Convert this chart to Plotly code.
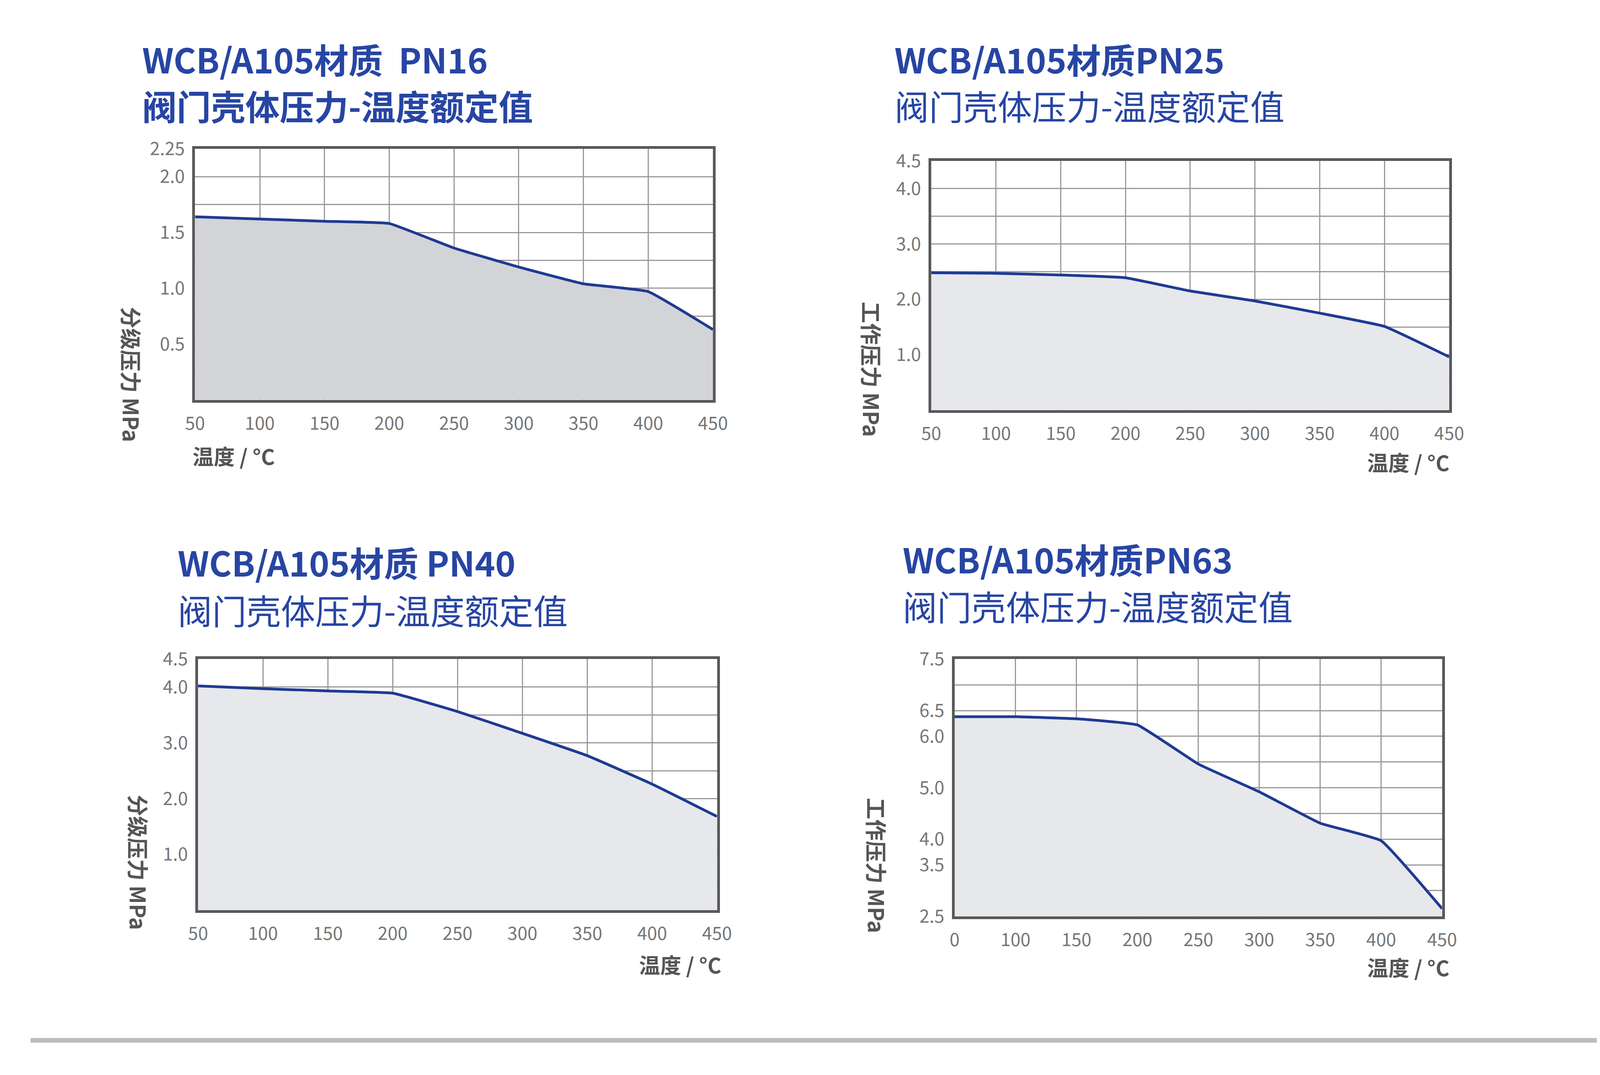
import plotly.graph_objects as go

# temperatures (°C) and pressures (MPa)
temps = [50, 100, 150, 200, 250, 300, 350, 400, 450]
pn16 = [1.64, 1.62, 1.60, 1.58, 1.36, 1.19, 1.04, 0.97, 0.63]
pn25 = [2.48, 2.47, 2.44, 2.39, 2.15, 1.97, 1.75, 1.51, 0.96]
pn40 = [4.02, 3.97, 3.93, 3.89, 3.56, 3.17, 2.77, 2.26, 1.68]
pn63 = [6.38, 6.38, 6.34, 6.22, 5.46, 4.92, 4.31, 3.97, 2.65]

x_labels = ['50', '100', '150', '200', '250', '300', '350', '400', '450']
x_labels_63 = ['0', '100', '150', '200', '250', '300', '350', '400', '450']

W, H = 4181, 2752
FONT = 'Noto Sans CJK SC'
BLUE = '#1f3a93'
TITLE_BLUE = '#2745a3'


# positions measured on a 1568x1032 view of the reference, converted to paper units
def px(v):
    return (v - 11) / 1.01 / 1568


def py(v):
    return 1 - (v - 14) / 1032


panels = [
    dict(y=pn16, xl=x_labels, box=(190, 700, 143, 390), rng=[0, 2.25], step=0.25,
         lab={0.5: '0.5', 1.0: '1.0', 1.5: '1.5', 2.0: '2.0', 2.25: '2.25'}, fill='#d2d4d7',
         t1='WCB/A105材质  PN16', t2='阀门壳体压力-温度额定值', t2bold=True, tpos=(137, 54, 100),
         ylab='分级压力 MPa', ylpos=(128, 365), xlpos=(228, 445)),
    dict(y=pn25, xl=x_labels, box=(915, 1425, 155, 400), rng=[0, 4.5], step=0.5,
         lab={1.0: '1.0', 2.0: '2.0', 3.0: '3.0', 4.0: '4.0', 4.5: '4.5'}, fill='#e6e8eb',
         t1='WCB/A105材质PN25', t2='阀门壳体压力-温度额定值', t2bold=False, tpos=(878, 54, 100),
         ylab='工作压力 MPa', ylpos=(857, 360), xlpos=(1385, 451)),
    dict(y=pn40, xl=x_labels, box=(193, 704, 645, 892), rng=[0, 4.5], step=0.5,
         lab={1.0: '1.0', 2.0: '2.0', 3.0: '3.0', 4.0: '4.0', 4.5: '4.5'}, fill='#e6e8eb',
         t1='WCB/A105材质 PN40', t2='阀门壳体压力-温度额定值', t2bold=False, tpos=(172, 549, 596),
         ylab='分级压力 MPa', ylpos=(135, 845), xlpos=(668, 945)),
    dict(y=pn63, xl=x_labels_63, box=(938, 1418, 645, 898), rng=[2.5, 7.5], step=0.5,
         lab={2.5: '2.5', 3.5: '3.5', 4.0: '4.0', 5.0: '5.0', 6.0: '6.0', 6.5: '6.5', 7.5: '7.5'}, fill='#e6e8eb',
         t1='WCB/A105材质PN63', t2='阀门壳体压力-温度额定值', t2bold=False, tpos=(886, 546, 592),
         ylab='工作压力 MPa', ylpos=(862, 848), xlpos=(1385, 948)),
]

fig = go.Figure()
layout = {}
ann = []
for i, p in enumerate(panels, start=1):
    xa = 'x' if i == 1 else f'x{i}'
    ya = 'y' if i == 1 else f'y{i}'
    fig.add_trace(go.Scatter(
        x=temps, y=p['y'], xaxis=xa, yaxis=ya, mode='lines',
        line=dict(color=BLUE, width=7, shape='spline', smoothing=0.3),
        fill='tozeroy', fillcolor=p['fill'], hoverinfo='skip', showlegend=False))

    n = int(round((p['rng'][1] - p['rng'][0]) / p['step']))
    yv = [round(p['rng'][0] + k * p['step'], 2) for k in range(n + 1)]
    yt = [p['lab'].get(v, '') for v in yv]

    x0, x1, y0, y1 = p['box']
    axis_common = dict(showline=True, linecolor='#595959', linewidth=7, mirror=True,
                       showgrid=True, gridcolor='#9a9a9a', gridwidth=3, zeroline=False,
                       ticks='', tickfont=dict(family=FONT, size=46, color='#767676'), fixedrange=True)
    layout['xaxis' if i == 1 else f'xaxis{i}'] = dict(
        axis_common, domain=[px(x0), px(x1)], range=[50, 450], tickvals=temps, ticktext=p['xl'],
        anchor=ya, ticklabelstandoff=14)
    layout['yaxis' if i == 1 else f'yaxis{i}'] = dict(
        axis_common, domain=[py(y1), py(y0)], range=p['rng'], tickvals=yv, ticktext=yt,
        anchor=xa, ticklabelstandoff=10)

    tx, ty1, ty2 = p['tpos']
    ann.append(dict(xref='paper', yref='paper', x=px(tx), y=py(ty1), xanchor='left', yanchor='middle',
                    text=f"<b>{p['t1']}</b>", showarrow=False,
                    font=dict(family=FONT, size=88, color=TITLE_BLUE)))
    t2 = f"<b>{p['t2']}</b>" if p['t2bold'] else p['t2']
    ann.append(dict(xref='paper', yref='paper', x=px(tx), y=py(ty2), xanchor='left', yanchor='middle',
                    text=t2, showarrow=False,
                    font=dict(family=FONT, size=88, color=TITLE_BLUE)))
    ann.append(dict(xref='paper', yref='paper', x=px(p['ylpos'][0]), y=py(p['ylpos'][1]),
                    xanchor='center', yanchor='middle',
                    text=f"<b>{p['ylab']}</b>", textangle=90, showarrow=False,
                    font=dict(family=FONT, size=55, color='#555555')))
    ann.append(dict(xref='paper', yref='paper', x=px(p['xlpos'][0]), y=py(p['xlpos'][1]),
                    xanchor='center', yanchor='middle', text='<b>温度 / °C</b>', showarrow=False,
                    font=dict(family=FONT, size=54, color='#555555')))

fig.update_layout(
    **layout,
    annotations=ann,
    width=W, height=H,
    margin=dict(l=0, r=0, t=0, b=0),
    paper_bgcolor='white', plot_bgcolor='white',
    shapes=[dict(type='line', xref='paper', yref='paper', x0=px(28), x1=1.0, y0=py(1020), y1=py(1020),
                 line=dict(color='#bdbdbd', width=12))],
)

fig.write_html('out.html')
